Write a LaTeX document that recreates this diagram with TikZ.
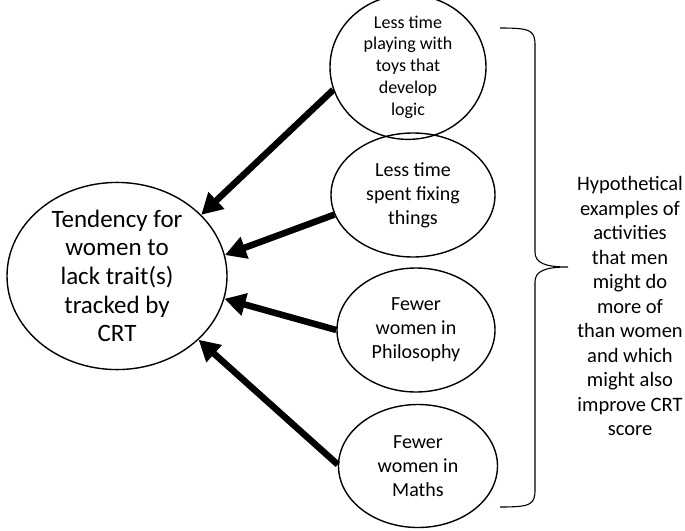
\documentclass[tikz,border=0pt]{standalone}
\usepackage{fontspec}
\setmainfont{Carlito}
\usetikzlibrary{shapes.geometric,arrows.meta}

\tikzset{
    oval/.style={draw, ellipse, line width=1.4pt, inner sep=0pt, align=center},
    push/.style={line width=6.5pt, -{Triangle[length=21pt,width=22pt]}}
}

\begin{document}
\begin{tikzpicture}[x=1pt,y=-1pt]
    \useasboundingbox (0,0) rectangle (685,530);

    % Central ellipse
    \node[oval, minimum width=220pt, minimum height=170pt,
        font=\fontsize{25}{28.7}\selectfont] (crt) at (117,276)
        {Tendency for\\women to\\lack trait(s)\\tracked by\\CRT};

    % Activities
    \node[oval, minimum width=156pt, minimum height=123pt,
        font=\fontsize{18}{21.7}\selectfont] (toys) at (408,67)
        {Less time\\playing with\\toys that\\develop\\logic};
    \node[oval, minimum width=164pt, minimum height=124pt,
        font=\fontsize{20}{24}\selectfont] (fixing) at (413,195)
        {Less time\\spent fixing\\things};
    \node[oval, minimum width=158pt, minimum height=124pt,
        font=\fontsize{20}{24}\selectfont] (philo) at (416,330)
        {Fewer\\women in\\Philosophy};
    \node[oval, minimum width=159pt, minimum height=123pt,
        font=\fontsize{20}{24}\selectfont] (maths) at (418,466)
        {Fewer\\women in\\Maths};

    % Arrows
    \draw[push] (toys.197) -- (crt.36);
    \draw[push] (fixing.194) -- (crt.11);
    \draw[push] (philo.180) -- (crt.348);
    \draw[push] (maths.179) -- (crt.322);

    % Brace
    \draw[line width=1.1pt] (500,28) .. controls (530,28) and (535,30) .. (535,45)
        -- (535,252) .. controls (535,263) and (545,267) .. (568,267)
        .. controls (545,267) and (535,271) .. (535,282)
        -- (535,490) .. controls (535,505) and (530,507) .. (500,507);

    \node[align=center, font=\fontsize{20.5}{24.5}\selectfont] (note) at (630,306)
        {Hypothetical\\examples of\\activities\\that men\\might do\\more of\\than women\\and which\\might also\\improve CRT\\score};
\end{tikzpicture}
\end{document}
